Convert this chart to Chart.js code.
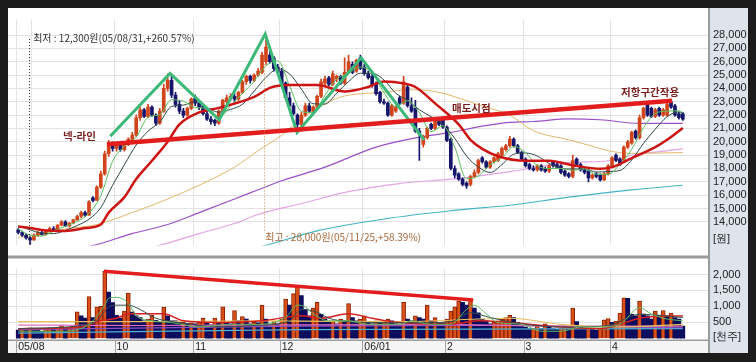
<!DOCTYPE html>
<html><head><meta charset="utf-8">
<script src="https://cdn.jsdelivr.net/npm/chart.js@4.4.1/dist/chart.umd.min.js"></script>
<style>
html,body{margin:0;padding:0;background:#1c1c1c;width:756px;height:362px;overflow:hidden}
#cp{position:absolute;left:8px;top:8px}
#cv{position:absolute;left:8px;top:257px}
</style></head><body>
<canvas id="cp" width="740" height="249"></canvas>
<canvas id="cv" width="740" height="96"></canvas>
<script>
// ---------------- data ----------------
const monthStart  = [0, 4, 25, 45, 67, 88, 109, 129, 151];
const monthLabels = ['05/08', '', '10', '11', '12', '06/01', '2', '3', '4'];
const priceTicks = [14000,15000,16000,17000,18000,19000,20000,21000,22000,23000,24000,25000,26000,27000,28000];
const volTicks = [500,1000,1500,2000];

const opens = [13400,13200,13000,12800,12650,13000,13200,13050,13350,13500,
13400,13750,14000,13700,13900,14150,14400,14700,14500,15800,
15600,16600,17600,19100,19900,19500,19800,19400,19800,20200,
20500,21800,22400,21900,22600,22000,21400,22300,24000,24600,
23500,22800,22300,22000,22500,23300,22900,22700,22100,21700,
21600,21400,22300,23000,23300,23400,23200,23700,24500,24900,
24600,25000,25200,26000,26500,26300,25600,25300,24400,23300,
22700,22000,21300,22000,22700,22300,22600,23400,24400,24800,
24300,24700,24900,24400,25200,25800,25300,26300,25600,25100,
24900,24300,23700,23000,22900,22000,22300,23300,22900,24100,
22700,22500,20800,19800,20300,21300,21000,21600,21600,21100,
20200,18000,17600,17200,16900,16800,17400,17700,18800,18500,
18100,18500,18600,19000,19400,19700,20200,19700,19200,18700,
18300,18000,17900,18200,18000,17800,18500,18300,18200,17800,
17600,17400,18700,18300,17900,17800,17300,17600,17500,17150,
17600,18200,19000,18700,18600,19600,19900,20800,20300,21800,
22800,22500,21900,22500,22000,22000,23000,22700,22100,22100];
const highs = [13500,13300,13100,12900,13100,13300,13300,13400,13600,13650,
13800,14100,14100,13950,14200,14500,14800,14800,15600,15900,
16700,17800,19300,20100,20000,19900,19900,19900,20300,20700,
22000,22600,22500,22800,22700,22100,22500,24300,25100,25000,
23700,23100,22500,22600,23300,23500,23100,22800,22300,21900,
21700,22400,23200,23500,23600,23600,23800,24600,25000,25000,
25100,25500,26700,28000,26800,26400,25800,25500,24500,23700,
22900,22100,22200,22900,22900,22700,23500,24700,24900,24900,
25300,25000,25000,26300,26500,26000,26200,26500,25800,25300,
25100,24500,23800,23200,23000,22800,22700,23400,24900,24300,
23300,23100,21000,20500,21100,21400,21700,21800,21700,21200,
20300,18200,17700,17300,17000,17500,17900,18700,18900,18600,
18600,18900,19200,19600,19800,20400,20300,19800,19300,18800,
18400,18200,18300,18300,18100,18300,18600,18400,18300,17900,
17700,19000,18800,18400,18000,17900,17600,17700,17600,17700,
18300,18900,19100,18800,19700,20100,20800,20900,22000,22600,
23000,22600,22500,22600,22500,23100,23100,22800,22200,22200];
const lows = [13100,12900,12700,12300,12600,12900,13000,13000,13300,13300,
13350,13700,13650,13600,13850,14100,14300,14400,14500,15500,
15600,16500,17500,18900,19300,19300,19300,19300,19700,20000,
20400,21600,21800,21800,21900,21200,21300,22200,23800,23300,
22600,22100,21800,21900,22400,22700,22400,22000,21600,21300,
21200,21300,22200,22900,23100,23000,23100,23600,24300,24400,
24500,24900,25100,25800,25900,25300,25100,24200,23200,22600,
22000,20700,20800,21900,22200,22100,22500,23300,24200,24200,
24200,24500,24300,24300,25100,25100,25200,25400,25000,24700,
24100,23500,22900,22800,21900,21900,22200,22800,22800,22600,
22200,20700,18600,19600,20200,20900,20900,21200,21000,20000,
17900,17300,17100,16700,16500,16700,17300,17600,18400,18000,
18000,18400,18500,18900,19300,19600,19600,19100,18600,18100,
17900,17800,17800,17800,17700,17700,18100,18000,17600,17400,
17300,17300,18200,17800,17600,17000,17200,17300,17050,17100,
17500,18100,18500,18200,18500,19500,19800,20200,20200,21700,
21900,21800,21800,21900,21900,21900,22500,21900,21700,21600];
const closes = [13200,13000,12800,12650,13000,13200,13050,13350,13500,13400,
13750,14000,13700,13900,14150,14400,14700,14500,15500,15600,
16600,17600,19100,19900,19500,19800,19400,19800,20200,20500,
21800,22400,21900,22600,22000,21400,22300,24000,24600,23500,
22800,22300,22000,22500,23200,22900,22600,22100,21700,21500,
21400,22300,23100,23300,23400,23200,23700,24500,24900,24600,
25000,25300,26500,27100,26000,25500,25200,24300,23300,22700,
22100,21300,22000,22700,22300,22600,23400,24500,24700,24300,
25100,24900,24400,25200,26000,25200,26100,25500,25100,24800,
24200,23600,23000,22900,22000,22700,22600,22900,24500,22700,
22300,20800,20600,20400,21000,21000,21600,21300,21100,20100,
18000,17500,17200,16800,16700,17400,17700,18600,18500,18100,
18500,18800,19100,19500,19700,20200,19700,19200,18700,18200,
18000,17900,18200,17900,17800,18200,18200,18100,17700,17500,
17400,18600,18300,17900,17700,17300,17500,17400,17150,17600,
18200,18800,18600,18300,19600,20000,20700,20300,21800,22500,
22000,21900,22400,22000,22400,22800,22600,22000,21800,21700];
const volumes = [260,300,250,330,280,250,220,300,330,280,
350,400,300,330,380,830,700,630,1310,650,
990,1000,2100,1450,1120,720,630,850,1420,820,
700,650,550,600,720,560,520,980,700,550,
550,480,500,460,480,450,500,630,480,420,
630,500,990,500,450,870,550,680,600,450,
500,480,1040,600,400,520,450,600,1230,1040,
1400,1600,1340,900,700,950,1130,750,600,500,
550,450,600,550,1090,650,550,600,700,500,
450,550,480,500,600,550,450,420,1130,600,
550,700,650,600,1040,550,650,500,480,600,
850,990,1170,1130,1040,1200,950,800,600,550,
450,500,550,600,650,720,650,500,420,350,
300,320,380,300,450,350,300,280,320,380,
300,950,520,350,280,300,280,260,300,580,
620,500,540,790,1270,1250,750,700,1170,760,
700,600,850,720,870,700,790,650,600,380];

// moving averages: [day index, value]
const ma5 = [[0,13450],[3,13010],[6,12940],[9,13300],[12,13670],[15,14030],[18,14650],[21,15960],[24,18540],[27,19680],[30,20340],[33,21840],[36,22040],[39,23160],[42,23040],[45,22580],[48,22500],[51,21800],[54,22700],[57,23620],[60,24540],[63,25700],[66,26060],[69,24200],[72,22280],[75,22180],[78,23500],[81,24700],[84,25120],[87,25600],[90,25140],[93,23700],[96,22640],[99,23080],[102,22180],[105,20760],[108,21200],[111,19600],[114,17240],[117,17440],[120,18280],[123,18800],[126,19640],[129,19200],[132,18200],[135,18000],[138,18000],[141,17860],[144,17980],[147,17560],[150,17570],[153,18300],[156,19440],[159,21060],[162,22120],[165,22300],[168,22320],[169,22180]];
const ma10 = [[0,13700],[3,13400],[6,13150],[9,13115],[12,13360],[15,13720],[18,14200],[21,15065],[24,16740],[27,18280],[30,19760],[33,20790],[36,21490],[39,22650],[42,22750],[45,23010],[48,22560],[51,22220],[54,22430],[57,22810],[60,23800],[63,24820],[66,25460],[69,25090],[72,23950],[75,22850],[78,22830],[81,23650],[84,24510],[87,25140],[90,25140],[93,24640],[96,23640],[99,23110],[102,22400],[105,21880],[108,21280],[111,20260],[114,18930],[117,18110],[120,17700],[123,18290],[126,19070],[129,19160],[132,18930],[135,18380],[138,18020],[141,17960],[144,17960],[147,17730],[150,17770],[153,17850],[156,18640],[159,19880],[162,20950],[165,21880],[168,22240],[169,22160]];
const ma20 = [[0,13650],[3,13530],[6,13390],[12,13320],[17,13530],[21,13800],[23,14690],[27,15850],[30,17210],[34,18580],[38,20010],[41,21310],[46,22200],[51,22540],[60,23360],[64,24040],[69,24250],[76,24250],[83,23770],[89,24110],[93,24520],[98,24380],[101,24110],[106,22880],[112,21310],[115,20150],[118,19470],[122,18920],[129,18580],[135,18580],[141,18240],[148,17970],[151,18100],[156,18780],[162,19600],[165,20150],[169,21040]];
const ma60 = [[0,12850],[4,12980],[12,13460],[20,13800],[29,14690],[38,15710],[46,16740],[55,18100],[61,19330],[67,20490],[72,21720],[77,22680],[82,23360],[92,23700],[100,23900],[106,23770],[118,22680],[125,21990],[131,20830],[140,20150],[146,19670],[150,19330],[156,19130],[169,19190]];
const ma120 = [[10,11700],[20,12300],[29,13120],[38,13800],[46,14690],[55,15710],[61,16400],[67,17080],[78,18100],[91,19600],[101,20290],[110,20700],[118,21170],[125,21450],[131,21520],[140,21720],[148,21650],[158,21380],[169,21380]];
const ma200 = [[25,11500],[35,12160],[46,13120],[55,13870],[61,14550],[72,15370],[84,16260],[97,16870],[105,17080],[113,17280],[125,17760],[140,18440],[150,18580],[156,18990],[169,19470]];
const ma240 = [[55,11700],[62,12160],[76,13320],[93,14210],[110,14830],[125,15240],[140,15850],[156,16400],[169,16740]];

const vma5 = [[0,220],[11,220],[17,355],[19,546],[22,1038],[23,1257],[25,1284],[28,1093],[30,710],[34,546],[39,492],[46,355],[54,437],[61,437],[68,656],[71,1038],[73,984],[75,765],[79,546],[84,546],[89,437],[97,437],[100,546],[105,437],[110,437],[114,902],[116,1038],[119,765],[122,492],[128,437],[133,219],[138,219],[143,355],[148,355],[153,437],[158,956],[161,765],[164,628],[169,546]];
const vma10 = [[0,300],[17,420],[20,546],[23,984],[25,1038],[28,1038],[31,902],[35,628],[41,492],[51,355],[60,400],[69,546],[72,902],[76,820],[79,628],[88,500],[100,480],[110,520],[115,800],[120,650],[128,450],[140,350],[150,400],[158,750],[169,650]];
const vma20 = [[0,300],[16,355],[21,546],[25,628],[28,765],[34,765],[37,765],[42,546],[51,492],[62,546],[72,710],[77,628],[84,765],[90,628],[97,492],[110,437],[117,546],[125,492],[138,355],[148,300],[153,437],[158,628],[169,710]];
const vma60 = [[0,520],[30,520],[63,546],[97,519],[125,628],[138,437],[153,355],[169,437]];
const vma120 = [[0,410],[7,410],[30,400],[72,420],[110,430],[140,380],[169,380]];
const vma200 = [[0,270],[72,383],[120,400],[169,330]];
const vma240 = [[0,160],[72,270],[169,300]];

// drawn annotation lines (data space: day index, value)
const zigzag = [[23.4,20420],[38.6,25130],[51.1,21650],[62.8,28070],[70.9,20700],[87.2,26290],[103.2,20150]];
const neckLine = [[22.6,19810],[166.3,23085]];
const volTrend = [[21.8,2104],[115.7,1202]];

const lowNote  = '최저 : 12,300원(05/08/31,+260.57%)';
const highNote = '최고 : 28,000원(05/11/25,+58.39%)';

// ---------------- chart ----------------
const N = closes.length;
const idx = Array.from({length: N}, (_, i) => i);
const X_MIN = -2.6, X_MAX = 175.4;
const P_UNIT = 12710, V_UNIT = 27;
const GRID = '#e3e3e3';
const UPC = '#d2441b', DNC = '#15156c';
const STRAIGHT = {tension: 0, cubicInterpolationMode: 'default'};

Chart.defaults.font.family = "'Liberation Sans', Arial, sans-serif";
const pts = a => a.map(p => ({x: p[0], y: p[1]}));
const lineDs = (data, color, width, order, extra) => Object.assign({
  type: 'line', data: pts(data), borderColor: color, borderWidth: width,
  pointRadius: 0, fill: false, tension: 0.3, cubicInterpolationMode: 'monotone', order
}, extra || {});

const frame = {
  id: 'frame',
  beforeDraw(chart, args, o) {
    const {ctx, chartArea: a, width, height} = chart;
    ctx.save();
    ctx.fillStyle = '#ffffff'; ctx.fillRect(0, 0, a.right, height);
    if (o.band) { ctx.fillStyle = '#f5f5f5'; ctx.fillRect(0, a.bottom, a.right, height - a.bottom); }
    ctx.fillStyle = '#dde4ec'; ctx.fillRect(a.right, 0, width - a.right, height);
    ctx.restore();
  },
  afterDraw(chart, args, o) {
    const {ctx, chartArea: a, height} = chart;
    ctx.save();
    ctx.fillStyle = '#9c9c9c';
    ctx.fillRect(a.right, 0, 2, height);
    if (o.bottomLine) ctx.fillRect(0, height - 1.5, a.right, 1.5);
    if (o.band) {
      ctx.fillRect(0, 0, a.right, 1.5);
      ctx.fillRect(0, a.bottom - 0.5, a.right, 1.5);
      const xs = chart.scales.x;
      ctx.fillStyle = '#a4a4a4';
      monthStart.forEach((m, k) => {
        if (!monthLabels[k]) return;
        const px = Math.round(xs.getPixelForValue(m - 0.5));
        ctx.fillRect(px, a.bottom, 1, height - a.bottom);
      });
    }
    ctx.restore();
  }
};

const notes = {
  id: 'notes',
  afterDatasetsDraw(chart) {
    const {ctx} = chart, xs = chart.scales.x, ys = chart.scales.y;
    ctx.save();
    const dotted = [
      {x: 3, y1: 27700, y2: 12300, color: '#222222', dx: -1.5},
      {x: 63, y1: 25800, y2: 13300, color: '#c88850', dx: -1.5}
    ];
    ctx.setLineDash([1, 2]); ctx.lineWidth = 1;
    dotted.forEach(d => {
      const px = Math.round(xs.getPixelForValue(d.x) + d.dx) + 0.5;
      ctx.strokeStyle = d.color;
      ctx.beginPath(); ctx.moveTo(px, ys.getPixelForValue(d.y1)); ctx.lineTo(px, ys.getPixelForValue(d.y2)); ctx.stroke();
    });
    ctx.setLineDash([]);
    const texts = [
      {t: lowNote,  x: 3.8,   y: 27730, c: '#333333', f: "10px 'Noto Sans CJK KR'"},
      {t: highNote, x: 62.8,  y: 12810, c: '#a8683a', f: "10px 'Noto Sans CJK KR'"},
      {t: '넥-라인',  x: 11.4,  y: 20420, c: '#7a1c1c', f: "bold 10.5px 'Noto Sans CJK KR'"},
      {t: '매도시점', x: 110.3, y: 22540, c: '#7a1c1c', f: "bold 10.5px 'Noto Sans CJK KR'"},
      {t: '저항구간작용', x: 153.3, y: 23700, c: '#7a1c1c', f: "bold 10.5px 'Noto Sans CJK KR'"}
    ];
    ctx.textAlign = 'left'; ctx.textBaseline = 'middle';
    texts.forEach(t => {
      ctx.font = t.f; ctx.fillStyle = t.c;
      ctx.fillText(t.t, xs.getPixelForValue(t.x), ys.getPixelForValue(t.y));
    });
    ctx.restore();
  }
};

const xAxis = (labels) => ({
  type: 'linear', min: X_MIN, max: X_MAX, offset: false,
  grid: {color: GRID, drawTicks: false, offset: false},
  border: {display: false},
  afterBuildTicks: s => { s.ticks = monthStart.map(m => ({value: m - 0.5})); },
  ticks: labels ? {
    display: true, autoSkip: false, maxRotation: 0, align: 'start', labelOffset: 2, padding: 1,
    color: '#222', font: {size: 10.5},
    callback: (v, i) => monthLabels[i]
  } : {display: false},
  afterFit: s => { s.height = labels ? 13 : 0; }
});

const isUp = idx.map(i => closes[i] >= opens[i]);

new Chart(document.getElementById('cp'), {
  type: 'bar',
  data: {datasets: [
    lineDs(neckLine, '#e31d1d', 4.5, 0, STRAIGHT),
    lineDs(zigzag, '#3cb878', 3, 1, STRAIGHT),
    lineDs(ma20, '#cc1414', 2.5, 2),
    lineDs(ma5, '#5cc05c', 1, 3),
    lineDs(ma10, '#304848', 1, 3),
    {type: 'bar', data: idx.map(i => ({x: i, y: [opens[i], closes[i]]})),
     backgroundColor: idx.map(i => isUp[i] ? UPC : DNC), barThickness: 3, minBarLength: 1, grouped: false, order: 5},
    {type: 'bar', data: idx.map(i => ({x: i, y: [lows[i], highs[i]]})),
     backgroundColor: idx.map(i => isUp[i] ? UPC : DNC), barThickness: 1, grouped: false, order: 6},
    lineDs(ma60, '#e2b86a', 1, 7),
    lineDs(ma120, '#9a50c8', 1.2, 7),
    lineDs(ma200, '#e4a4e4', 1.2, 7),
    lineDs(ma240, '#44b4c4', 1.2, 7)
  ]},
  options: {
    responsive: false, animation: false, devicePixelRatio: 1, events: [],
    layout: {padding: 0},
    plugins: {legend: {display: false}, tooltip: {enabled: false}, frame: {bottomLine: true}},
    scales: {
      x: xAxis(false),
      y: {
        position: 'right', min: 12232, max: 29160,
        grid: {color: c => (c.tick && c.tick.value === P_UNIT) ? 'rgba(0,0,0,0)' : GRID, drawTicks: false},
        border: {display: false},
        afterBuildTicks: s => { s.ticks = priceTicks.map(v => ({value: v})).concat([{value: P_UNIT}]); },
        ticks: {autoSkip: false, padding: 5, color: '#222', font: {size: 11},
          callback: v => v === P_UNIT ? '[원]' : v.toLocaleString('en-US')},
        afterFit: s => { s.width = 40; }
      }
    }
  },
  plugins: [frame, notes]
});

const volUp = idx.map(i => i > 0 && volumes[i] > volumes[i - 1]);
new Chart(document.getElementById('cv'), {
  type: 'bar',
  data: {datasets: [
    lineDs(volTrend, '#e31d1d', 3.5, 0, STRAIGHT),
    lineDs(vma5, '#5cb85c', 1, 1),
    lineDs(vma10, '#355050', 1, 1),
    lineDs(vma20, '#d42020', 1.5, 1),
    lineDs(vma60, '#e8c060', 1.2, 2),
    lineDs(vma120, '#e070c0', 1.2, 2),
    lineDs(vma200, '#8a50c8', 1.2, 2),
    lineDs(vma240, '#50b4d4', 1.2, 2),
    {type: 'bar', data: idx.map(i => ({x: i, y: [0, volumes[i]]})),
     backgroundColor: idx.map(i => volUp[i] ? '#d9501a' : '#0d0d5e'),
     borderColor: idx.map(i => volUp[i] ? '#8b2000' : '#0d0d5e'),
     borderWidth: idx.map(i => volUp[i] ? 1 : 0),
     barThickness: 4, grouped: false, order: 5}
  ]},
  options: {
    responsive: false, animation: false, devicePixelRatio: 1, events: [],
    layout: {padding: {top: 1}},
    plugins: {legend: {display: false}, tooltip: {enabled: false}, frame: {band: true}},
    scales: {
      x: xAxis(true),
      y: {
        position: 'right', min: -55, max: 2186,
        grid: {color: c => (c.tick && c.tick.value === V_UNIT) ? 'rgba(0,0,0,0)' : GRID, drawTicks: false},
        border: {display: false},
        afterBuildTicks: s => { s.ticks = volTicks.map(v => ({value: v})).concat([{value: V_UNIT}]); },
        ticks: {autoSkip: false, padding: 5, color: '#222', font: {size: 11},
          callback: v => v === V_UNIT ? '[천주]' : v.toLocaleString('en-US')},
        afterFit: s => { s.width = 40; }
      }
    }
  },
  plugins: [frame]
});
</script>
</body></html>
